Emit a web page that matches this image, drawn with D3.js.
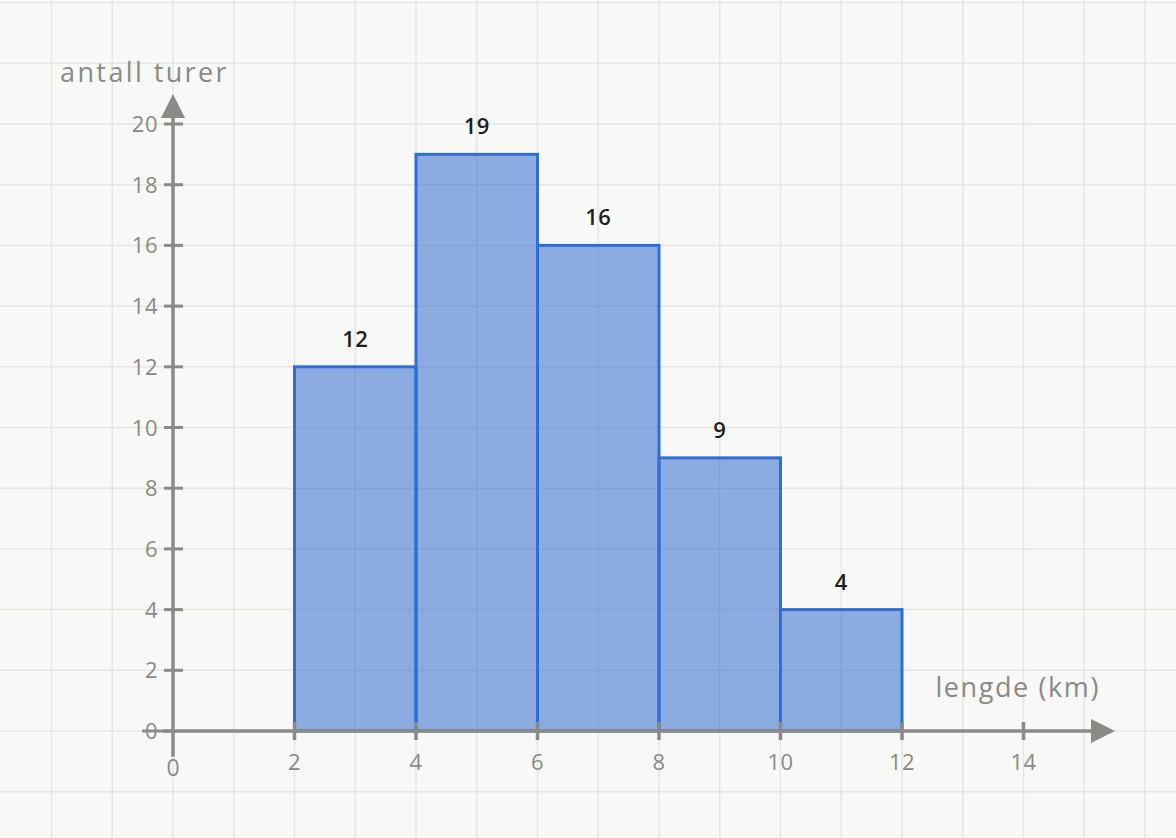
<!DOCTYPE html>
<html>
<head>
<meta charset="utf-8">
<script src="https://cdn.jsdelivr.net/npm/d3@7"></script>
<style>
  html, body { margin: 0; padding: 0; background: #f8f8f6; }
  svg { display: block; }
  text { font-family: "Open Sans", Lato, sans-serif; }
</style>
</head>
<body>
<svg id="chart"></svg>
<script>
// histogram: trip lengths
const binEdges = [2, 4, 6, 8, 10, 12];
const counts = [12, 19, 16, 9, 4];
const xTicks = [2, 4, 6, 8, 10, 12, 14];
const yTicks = [0, 2, 4, 6, 8, 10, 12, 14, 16, 18, 20];

const width = 1176, height = 838;

const svg = d3.select('#chart')
    .attr('width', width)
    .attr('height', height)
    .style('background', '#f8f8f6');

const x = d3.scaleLinear().domain([0, 14]).range([173, 1023.5]);
const y = d3.scaleLinear().domain([0, 20]).range([731, 124]);

const grey = '#8a8a86';

// background grid
const grid = svg.append('g').attr('stroke', '#e6e6e1').attr('stroke-width', 1.5);
grid.selectAll('.gv')
    .data(d3.range(-3, 18))
    .enter().append('line')
    .attr('x1', d => x(d)).attr('x2', d => x(d))
    .attr('y1', 0).attr('y2', height);
grid.selectAll('.gh')
    .data(d3.range(-6, 26, 2))
    .enter().append('line')
    .attr('y1', d => y(d)).attr('y2', d => y(d))
    .attr('x1', 0).attr('x2', width);

const bins = counts.map((c, i) => ({ x0: binEdges[i], x1: binEdges[i + 1], n: c }));

// bars
svg.selectAll('.bar')
    .data(bins)
    .enter().append('rect')
    .attr('x', d => x(d.x0))
    .attr('y', d => y(d.n))
    .attr('width', d => x(d.x1) - x(d.x0))
    .attr('height', d => y(0) - y(d.n))
    .attr('fill', '#1f5fcc')
    .attr('fill-opacity', 0.5)
    .attr('stroke', '#2f6fd4')
    .attr('stroke-width', 3);

// axes
svg.append('line')
    .attr('x1', x(-0.16)).attr('x2', 1095)
    .attr('y1', y(0)).attr('y2', y(0))
    .attr('stroke', grey).attr('stroke-width', 3.5);
svg.append('line')
    .attr('x1', x(0)).attr('x2', x(0))
    .attr('y1', y(-0.85)).attr('y2', 116)
    .attr('stroke', grey).attr('stroke-width', 3.5);

// arrows
svg.append('path')
    .attr('d', `M1115,${y(0)} L1091,${y(0) - 12} L1091,${y(0) + 12} Z`)
    .attr('fill', grey);
svg.append('path')
    .attr('d', `M${x(0)},94 L${x(0) - 12},118 L${x(0) + 12},118 Z`)
    .attr('fill', grey);

// ticks
svg.selectAll('.xt')
    .data(xTicks)
    .enter().append('line')
    .attr('x1', d => x(d)).attr('x2', d => x(d))
    .attr('y1', y(0) - 9).attr('y2', y(0) + 9)
    .attr('stroke', grey).attr('stroke-width', 3.5);
svg.selectAll('.yt')
    .data(yTicks.filter(d => d > 0))
    .enter().append('line')
    .attr('y1', d => y(d)).attr('y2', d => y(d))
    .attr('x1', x(0) - 9).attr('x2', x(0) + 10)
    .attr('stroke', grey).attr('stroke-width', 3);

// tick labels
svg.selectAll('.xl')
    .data(xTicks)
    .enter().append('text')
    .attr('x', d => x(d))
    .attr('y', y(0) + 39)
    .attr('text-anchor', 'middle')
    .attr('font-size', 22)
    .attr('letter-spacing', 0.5)
    .attr('fill', grey)
    .text(d => d);
svg.append('text')
    .attr('x', x(0)).attr('y', y(0) + 45)
    .attr('text-anchor', 'middle')
    .attr('font-size', 23)
    .attr('fill', grey)
    .text('0');

svg.selectAll('.yl')
    .data(yTicks)
    .enter().append('text')
    .attr('x', 158)
    .attr('y', d => y(d) + 8)
    .attr('text-anchor', 'end')
    .attr('font-size', 22)
    .attr('letter-spacing', 0.5)
    .attr('fill', grey)
    .text(d => d);
// dash across the y zero label
svg.append('line')
    .attr('x1', 142).attr('x2', x(0))
    .attr('y1', y(0)).attr('y2', y(0))
    .attr('stroke', grey).attr('stroke-width', 3);

// bar value labels
svg.selectAll('.vl')
    .data(bins)
    .enter().append('text')
    .attr('x', d => x((d.x0 + d.x1) / 2))
    .attr('y', d => y(d.n) - 20)
    .attr('text-anchor', 'middle')
    .attr('font-size', 22)
    .attr('font-weight', 600)
    .attr('letter-spacing', 0.5)
    .attr('fill', '#1e1e1e')
    .text(d => d.n);

// axis titles
svg.append('text')
    .attr('x', 60).attr('y', 82)
    .attr('font-size', 27)
    .attr('letter-spacing', 2.4)
    .attr('fill', grey)
    .text('antall turer');
svg.append('text')
    .attr('x', 1100).attr('y', 697)
    .attr('text-anchor', 'end')
    .attr('font-size', 27)
    .attr('letter-spacing', 1.6)
    .attr('fill', grey)
    .text('lengde (km)');
</script>
</body>
</html>
